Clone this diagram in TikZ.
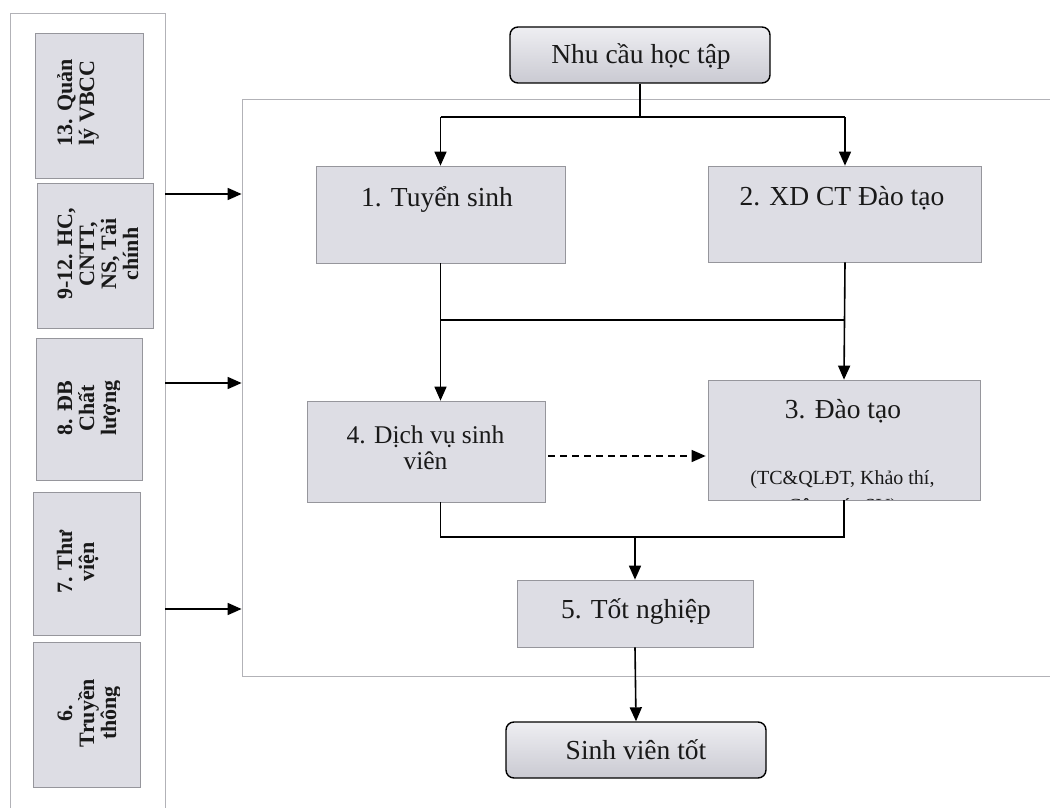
\documentclass[tikz,border=0pt]{standalone}
\usepackage{fontspec}
\setmainfont{Liberation Serif}
\usetikzlibrary{arrows.meta}
\definecolor{boxfill}{RGB}{221,221,228}
\definecolor{boxline}{RGB}{150,150,156}
\definecolor{frameline}{RGB}{178,178,183}
\definecolor{txt}{RGB}{25,25,25}
\definecolor{rtop}{RGB}{238,238,242}
\definecolor{rbot}{RGB}{202,202,210}
\begin{document}
\begin{tikzpicture}[x=1pt,y=-1pt,
  frame/.style={draw=frameline,line width=0.8pt,rectangle,inner sep=0pt},
  gbox/.style={draw=boxline,line width=0.7pt,fill=boxfill,rectangle,inner sep=0pt},
  rbox/.style={draw=black,line width=1.4pt,rounded corners=8pt,top color=rtop,bottom color=rbot,rectangle,inner sep=0pt},
  big/.style={font=\fontsize{27.5}{32}\selectfont,text=txt,inner sep=0pt,anchor=base},
  mid/.style={font=\fontsize{25.5}{30}\selectfont,text=txt,inner sep=0pt,anchor=base},
  small/.style={font=\fontsize{20}{24}\selectfont,text=txt,inner sep=0pt,anchor=base},
  lft/.style={font=\bfseries\fontsize{22}{22}\selectfont,text=txt,inner sep=0pt,anchor=base,rotate=90},
  ln/.style={line width=1.6pt,draw=black},
  arr/.style={line width=1.6pt,draw=black,-{Triangle[length=14pt,width=12pt]}},
  darr/.style={line width=1.3pt,draw=black,dash pattern=on 7pt off 5pt,-{Triangle[length=14pt,width=12pt]}}
]
\useasboundingbox (0,0) rectangle (1050,808);
\fill[white] (0,0) rectangle (1050,808);

% frames
\node[frame,minimum width=155,minimum height=802] (lf) at (87.5,414) {};
\node[frame,minimum width=810,minimum height=577] (inner) at (647,387.5) {};

% left boxes
\node[gbox,minimum width=108,minimum height=145] (l13) at (89,105.5) {};
\node[gbox,minimum width=116,minimum height=145] (l9) at (95,255.5) {};
\node[gbox,minimum width=106,minimum height=142] (l8) at (89,409) {};
\node[gbox,minimum width=107,minimum height=143] (l7) at (86.5,563.5) {};
\node[gbox,minimum width=107,minimum height=145] (l6) at (86.5,714.5) {};

\node[lft] (l13a) at (72,103) {13. Quản};
\node[lft] (l13b) at (94,103) {lý VBCC};

\node[lft] (l9a) at (72,254) {9-12. HC,};
\node[lft] (l9b) at (94,254) {CNTT,};
\node[lft] (l9c) at (116,254) {NS, Tài};
\node[lft] (l9d) at (138,254) {chính};

\begin{scope}
\clip (36,338) rectangle (119,480);
\node[lft] (l8a) at (72,408) {8. ĐB};
\node[lft] (l8b) at (94,408) {Chất};
\node[lft] (l8c) at (116,408) {lượng};
\end{scope}

\node[lft] (l7a) at (72,562) {7. Thư};
\node[lft] (l7b) at (94,562) {viện};

\begin{scope}
\clip (33,642) rectangle (119,787);
\node[lft] (l6a) at (72,713) {6.};
\node[lft] (l6b) at (94,713) {Truyền};
\node[lft] (l6c) at (116,713) {thông};
\end{scope}

% main nodes
\node[rbox,minimum width=260,minimum height=56] (nhu) at (640,55) {};
\node[big] (tnhu) at (641,64) {Nhu cầu học tập};

\node[gbox,minimum width=249,minimum height=97] (b1) at (440.5,214.5) {};
\node[big] (t1) at (437,206) {1. Tuyển sinh};

\node[gbox,minimum width=273,minimum height=96] (b2) at (845,214) {};
\node[big] (t2) at (842,205) {2. XD CT Đào tạo};

\node[gbox,minimum width=272,minimum height=120] (b3) at (844,440) {};
\node[big] (t3) at (843,418) {3. Đào tạo};
\begin{scope}
\clip (709,381) rectangle (979,499);
\node[small] (t3b) at (842.5,484) {(TC\&QLĐT, Khảo thí,};
\node[small] (t3c) at (842.5,512) {Công tác SV)};
\end{scope}

\node[gbox,minimum width=238,minimum height=101] (b4) at (426,451.5) {};
\node[mid] (t4a) at (425.5,443) {4. Dịch vụ sinh};
\node[mid] (t4b) at (425.5,469) {viên};

\node[gbox,minimum width=236,minimum height=67] (b5) at (635,613.5) {};
\node[big] (t5) at (636,618) {5. Tốt nghiệp};

\node[rbox,minimum width=260,minimum height=56] (sv) at (636,750) {};
\node[big] (tsv) at (636,759) {Sinh viên tốt};

% junction coordinates
\coordinate (jA) at (0,117);
\coordinate (jB) at (0,320);
\coordinate (jC) at (0,537);
\coordinate (jD) at (0,456);
\coordinate (ya) at (0,194);
\coordinate (yb) at (0,383);
\coordinate (yc) at (0,609);

% connectors
\draw[ln] (nhu.south) -- (nhu.south |- jA);
\draw[ln] (b1.north |- jA) -- (b2.north |- jA);
\draw[arr] (b1.north |- jA) -- (b1.north);
\draw[arr] (b2.north |- jA) -- (b2.north);
\draw[arr] (b2.south) -- (b3.north);
\draw[arr] (b1.south) -- (b1.south |- b4.north);
\draw[ln] (b1.south |- jB) -- (b2.south |- jB);
\draw[ln] (b1.south |- b4.south) -- (b1.south |- jC) -- (b3.south |- jC) -- (b3.south);
\draw[arr] (b5.north |- jC) -- (b5.north);
\draw[arr] (b5.south) -- (sv.north);
\draw[darr,shorten <=3pt,shorten >=2pt] (b4.east |- jD) -- (b3.west |- jD);

\draw[arr] (lf.east |- ya) -- (inner.west |- ya);
\draw[arr] (lf.east |- yb) -- (inner.west |- yb);
\draw[arr] (lf.east |- yc) -- (inner.west |- yc);
\end{tikzpicture}
\end{document}
